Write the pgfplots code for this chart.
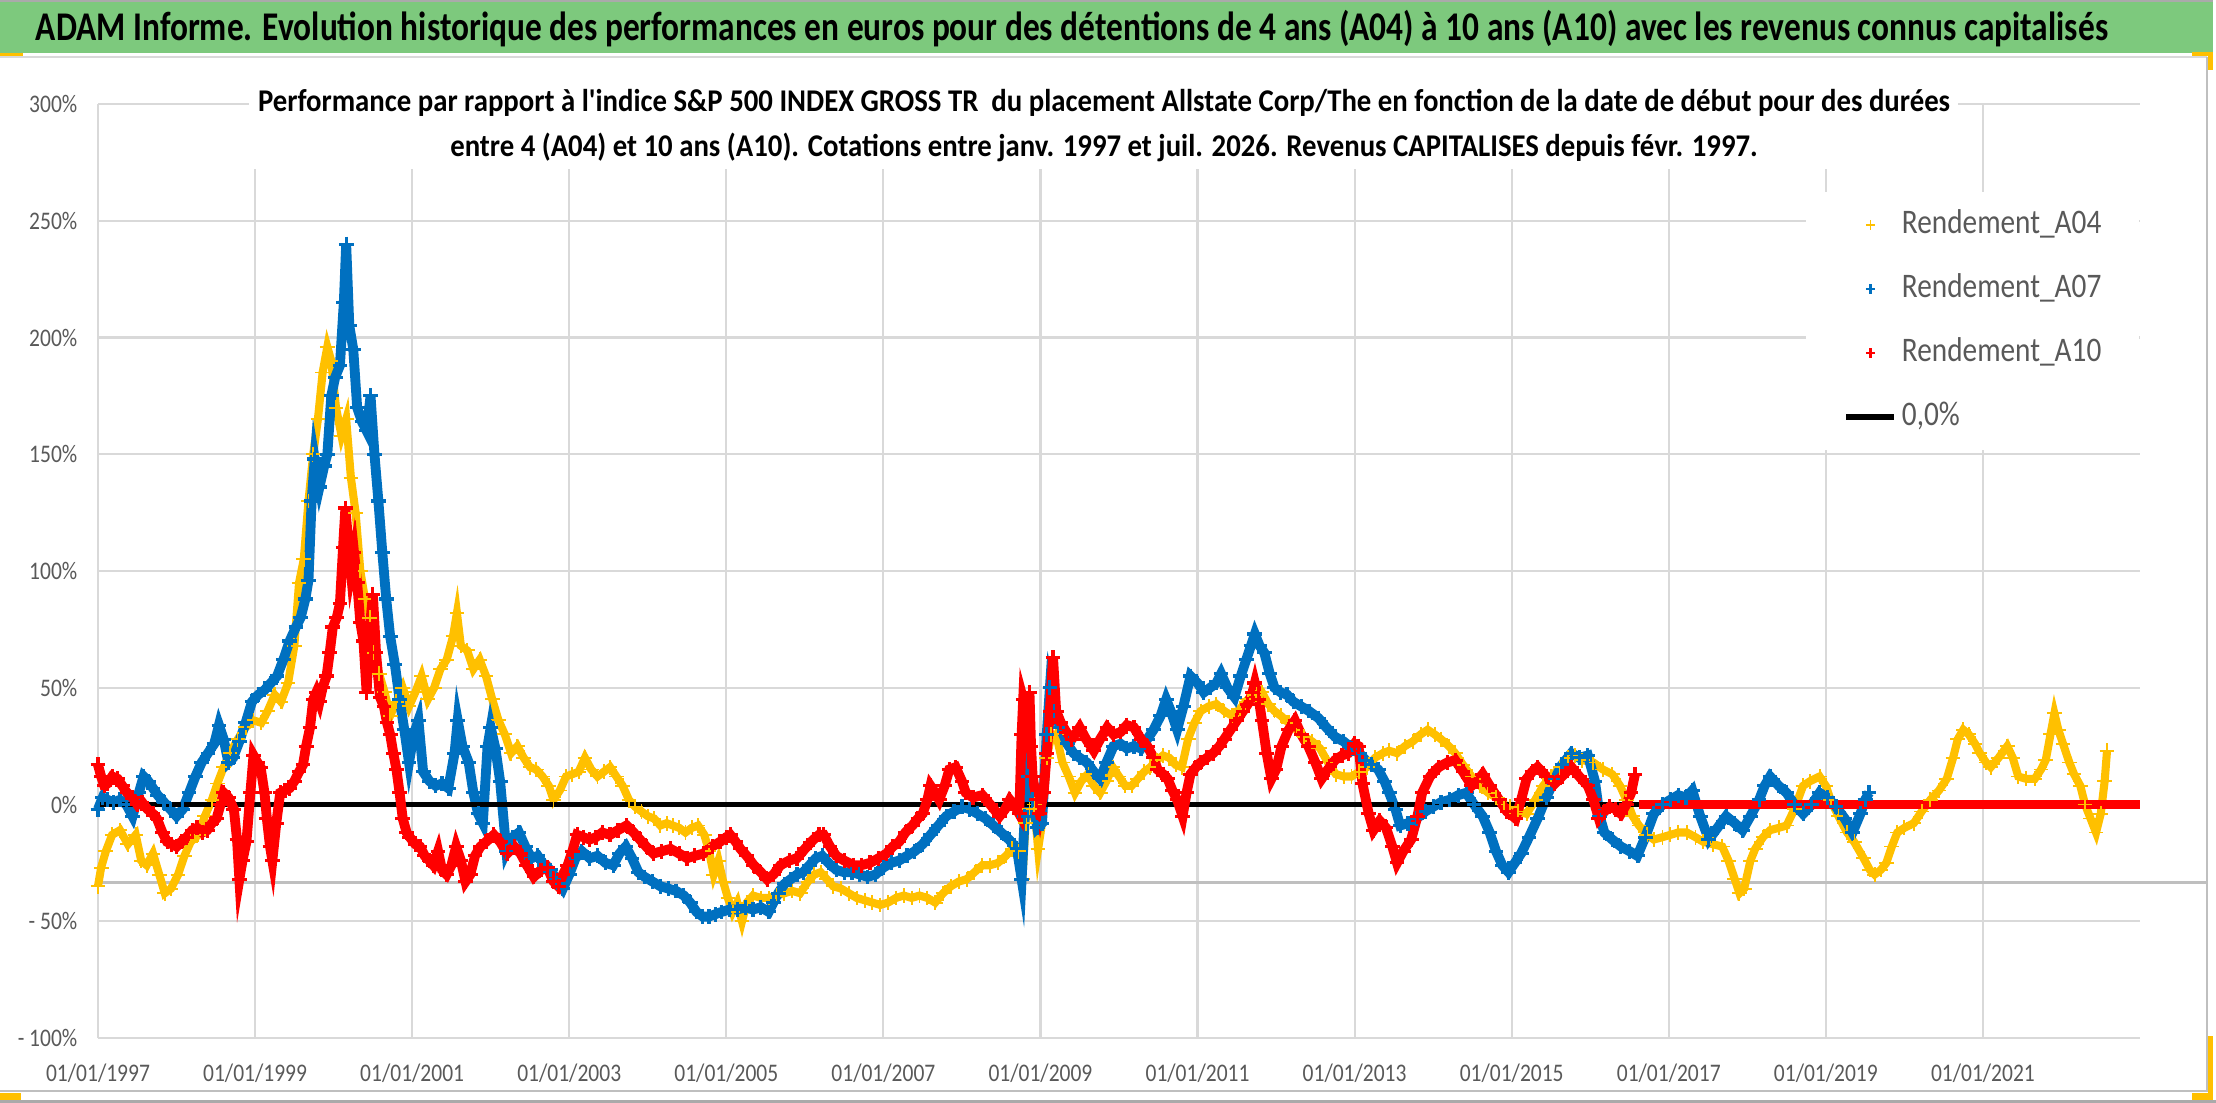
\documentclass[border=0pt]{standalone}
\usepackage{graphicx}
\usepackage{fontspec}
\setmainfont{Carlito}[FakeStretch=0.85, Ligatures=TeXOff]
\usepackage{pgfplots}
\pgfplotsset{compat=1.18}
\definecolor{titlegreen}{RGB}{125,201,125}
\definecolor{labgray}{RGB}{89,89,89}
\definecolor{gridgray}{RGB}{217,217,217}
\definecolor{axisgray}{RGB}{191,191,191}
\definecolor{bordgray}{RGB}{170,170,170}
\definecolor{cyel}{RGB}{255,192,0}
\definecolor{cblue}{RGB}{0,112,192}
\definecolor{cred}{RGB}{255,0,0}
\newsavebox\subA
\newsavebox\subB
\newlength\la
\begin{document}
\savebox\subA{\fontsize{9}{10}\selectfont\bfseries Performance par rapport à l'indice S\&P 500 INDEX GROSS TR~ du placement Allstate Corp/The en fonction de la date de début pour des durées}%
\savebox\subB{\fontsize{9}{10}\selectfont\bfseries entre 4 (A04) et 10 ans (A10). Cotations entre janv. 1997 et juil. 2026. Revenus CAPITALISES depuis févr. 1997.}%
\setlength\la{\wd\subA}%
\pgfmathsetmacro\sx{16.92cm/\la}%
\begin{tikzpicture}
\path[use as bounding box] (0,0) rectangle (22.16,11.02);
% frame
\fill[titlegreen] (0,10.49) rectangle (22.13,11.02);
\draw[bordgray,line width=0.6pt] (0,11.015) -- (22.13,11.015);
\draw[gridgray,line width=0.8pt] (0,10.45) -- (22.07,10.45);
\draw[axisgray,line width=0.7pt] (22.07,10.45) -- (22.07,0.11) -- (0,0.11);
\draw[bordgray,line width=0.6pt] (0,0.005) -- (22.16,0.005);
\fill[cyel] (0,10.49) rectangle (0.23,10.46);
\fill[cyel] (21.92,10.50) rectangle (22.13,10.46);
\fill[cyel] (22.08,10.50) rectangle (22.13,10.32);
\fill[cyel] (22.08,0.66) rectangle (22.13,0.02);
\fill[cyel] (21.92,0.09) rectangle (22.13,0.02);
\fill[cyel] (0,0.09) rectangle (0.21,0.02);
\begin{axis}[
  at={(0.98cm,0.64cm)}, anchor=south west,
  scale only axis, width=20.42cm, height=9.34cm,
  xmin=1997, xmax=2023, ymin=-100, ymax=300,
  clip=false,
  axis line style={draw=none},
  tick style={draw=none},
  xtick={1997,1999,2001,2003,2005,2007,2009,2011,2013,2015,2017,2019,2021},
  xticklabels={01/01/1997,01/01/1999,01/01/2001,01/01/2003,01/01/2005,01/01/2007,01/01/2009,01/01/2011,01/01/2013,01/01/2015,01/01/2017,01/01/2019,01/01/2021},
  ytick={-100,-50,0,50,100,150,200,250,300},
  yticklabels={- 100\%,- 50\%,0\%,50\%,100\%,150\%,200\%,250\%,300\%},
  grid=major, grid style={color=gridgray, line width=0.6pt},
  ticklabel style={font=\fontsize{7.2}{8}\selectfont, text=labgray},
  xticklabel style={anchor=base, yshift=-0.43cm, inner sep=0pt},
  yticklabel style={anchor=east, xshift=-0.2cm, inner sep=0pt},
  legend image code/.code={\draw[mark repeat=2,mark phase=2,#1] plot coordinates {(0cm,0cm) (0.24cm,0cm) (0.48cm,0cm)};},
  legend style={at={(1,0.906)}, anchor=north east, draw=none, fill=white,
    inner xsep=0.38cm, inner ysep=0.17cm, row sep=0.33cm,
    font=\fontsize{9.8}{11}\selectfont, text=labgray,
    nodes={inner sep=0pt, text height=0.24cm, text depth=0.07cm},
    /tikz/every odd column/.append style={column sep=0.05cm}},
  legend cell align=left,
]
\addplot[axisgray, line width=0.8pt, forget plot] coordinates {(1997,-33.5) (2023.85,-33.5)};
% A04
\addplot[cyel, line width=2.3pt, mark=+, mark size=2.1pt, mark options={line width=0.55pt}, forget plot] coordinates {
(1997.00,-35) (1997.04,-27) (1997.10,-20) (1997.18,-13) (1997.28,-11) (1997.38,-17) (1997.48,-13) (1997.55,-24) (1997.62,-26) (1997.70,-21)
(1997.78,-30) (1997.85,-38) (1997.93,-36) (1998.02,-30) (1998.10,-22) (1998.18,-16) (1998.28,-13) (1998.36,-5) (1998.45,2) (1998.52,9)
(1998.60,16) (1998.68,22) (1998.78,28) (1998.88,33) (1998.98,36) (1999.08,35) (1999.16,40) (1999.25,47) (1999.33,44) (1999.42,52)
(1999.50,68) (1999.56,95) (1999.62,105) (1999.68,130) (1999.74,150) (1999.80,165) (1999.86,185) (1999.92,196) (1999.97,190) (2000.03,170)
(2000.10,158) (2000.16,165) (2000.22,140) (2000.28,125) (2000.34,100) (2000.40,88) (2000.46,80) (2000.52,65) (2000.58,56) (2000.65,48)
(2000.72,38) (2000.80,44) (2000.88,50) (2000.96,42) (2001.04,48) (2001.12,55) (2001.20,45) (2001.28,50) (2001.36,58) (2001.44,62)
(2001.52,72) (2001.57,82) (2001.62,68) (2001.70,66) (2001.78,58) (2001.86,62) (2001.94,55) (2002.02,45) (2002.10,36) (2002.18,30)
(2002.26,22) (2002.34,25) (2002.42,20) (2002.50,16) (2002.58,15) (2002.66,12) (2002.74,8) (2002.80,2) (2002.88,6) (2002.96,12)
(2003.04,13) (2003.12,14) (2003.20,20) (2003.28,15) (2003.36,12) (2003.44,14) (2003.52,16) (2003.60,12) (2003.68,8) (2003.76,2)
(2003.84,-1) (2003.92,-3) (2004.00,-5) (2004.08,-6) (2004.16,-9) (2004.24,-8) (2004.32,-9) (2004.40,-10) (2004.48,-12) (2004.56,-10)
(2004.64,-9) (2004.72,-13) (2004.78,-20) (2004.84,-30) (2004.90,-24) (2004.96,-33) (2005.02,-40) (2005.08,-46) (2005.14,-42) (2005.20,-50)
(2005.26,-42) (2005.34,-39) (2005.44,-40) (2005.54,-40) (2005.64,-39) (2005.74,-38) (2005.84,-37) (2005.94,-38) (2006.04,-33) (2006.12,-30)
(2006.20,-29) (2006.28,-32) (2006.36,-35) (2006.46,-36) (2006.56,-38) (2006.66,-40) (2006.76,-41) (2006.86,-42) (2006.96,-43) (2007.06,-42)
(2007.16,-40) (2007.26,-39) (2007.36,-40) (2007.46,-39) (2007.56,-40) (2007.66,-42) (2007.76,-38) (2007.86,-35) (2007.96,-33) (2008.06,-32)
(2008.16,-29) (2008.26,-26) (2008.36,-26) (2008.46,-25) (2008.56,-22) (2008.64,-19) (2008.72,-20) (2008.77,-32) (2008.81,-8) (2008.86,-2)
(2008.92,0) (2008.97,-19) (2009.02,-8) (2009.08,20) (2009.14,30) (2009.20,30) (2009.28,18) (2009.36,12) (2009.44,5) (2009.52,10)
(2009.60,13) (2009.68,8) (2009.76,5) (2009.84,10) (2009.92,16) (2010.00,12) (2010.08,8) (2010.16,8) (2010.24,11) (2010.32,14)
(2010.40,16) (2010.48,19) (2010.56,21) (2010.64,20) (2010.72,17) (2010.80,16) (2010.88,28) (2010.96,35) (2011.04,40) (2011.14,42)
(2011.24,43) (2011.34,40) (2011.44,38) (2011.54,41) (2011.64,45) (2011.74,47) (2011.82,48) (2011.90,43) (2011.98,40) (2012.06,38)
(2012.16,35) (2012.26,32) (2012.36,29) (2012.46,27) (2012.56,24) (2012.66,18) (2012.76,13) (2012.86,12) (2012.96,12) (2013.06,14)
(2013.16,16) (2013.26,20) (2013.36,22) (2013.44,23) (2013.54,22) (2013.64,25) (2013.74,27) (2013.84,30) (2013.93,32) (2014.02,30)
(2014.10,28) (2014.20,25) (2014.28,22) (2014.38,17) (2014.49,12) (2014.60,8) (2014.70,5) (2014.80,3) (2014.90,0) (2014.98,-1)
(2015.08,-3) (2015.19,-4) (2015.30,2) (2015.40,8) (2015.50,12) (2015.62,16) (2015.72,20) (2015.80,21) (2015.90,19) (2016.04,18)
(2016.16,15) (2016.28,13) (2016.38,8) (2016.46,2) (2016.54,-5) (2016.62,-9) (2016.72,-13) (2016.81,-15) (2016.92,-14) (2017.02,-13)
(2017.12,-12) (2017.23,-12) (2017.34,-14) (2017.44,-16) (2017.56,-17) (2017.68,-18) (2017.76,-24) (2017.84,-32) (2017.90,-38) (2017.96,-36)
(2018.04,-24) (2018.10,-19) (2018.20,-14) (2018.29,-11) (2018.40,-10) (2018.50,-9) (2018.60,-2) (2018.71,8) (2018.80,10) (2018.92,12)
(2019.00,8) (2019.06,2) (2019.16,-5) (2019.27,-12) (2019.36,-16) (2019.48,-23) (2019.56,-28) (2019.62,-30) (2019.70,-28) (2019.77,-25)
(2019.84,-18) (2019.91,-12) (2020.00,-10) (2020.12,-8) (2020.22,-3) (2020.33,2) (2020.44,6) (2020.54,11) (2020.62,20) (2020.68,28)
(2020.75,32) (2020.82,30) (2020.90,26) (2020.96,22) (2021.04,18) (2021.10,16) (2021.20,20) (2021.31,25) (2021.38,20) (2021.45,12)
(2021.55,11) (2021.66,11) (2021.74,15) (2021.80,19) (2021.86,30) (2021.91,39) (2021.96,32) (2022.02,26) (2022.10,18) (2022.16,13)
(2022.24,8) (2022.30,0) (2022.37,-6) (2022.44,-12) (2022.50,-4) (2022.55,10) (2022.58,23)
};
% A07
\addplot[cblue, line width=2.8pt, mark=+, mark size=2.1pt, mark options={line width=0.9pt}, forget plot] coordinates {
(1997.00,-2) (1997.06,3) (1997.12,2) (1997.20,1) (1997.28,2) (1997.36,0) (1997.44,-5) (1997.52,5) (1997.58,12) (1997.64,10)
(1997.70,7) (1997.76,4) (1997.84,1) (1997.92,-2) (1998.00,-5) (1998.08,-2) (1998.16,5) (1998.24,12) (1998.32,18) (1998.40,22)
(1998.48,26) (1998.54,34) (1998.60,28) (1998.66,18) (1998.72,20) (1998.80,27) (1998.88,35) (1998.96,44) (1999.04,47) (1999.12,49)
(1999.20,52) (1999.28,55) (1999.36,62) (1999.44,70) (1999.52,76) (1999.58,80) (1999.64,88) (1999.68,96) (1999.72,130) (1999.76,148)
(1999.82,136) (1999.88,145) (1999.92,150) (1999.97,175) (2000.02,183) (2000.08,188) (2000.13,215) (2000.16,240) (2000.20,205) (2000.25,195)
(2000.30,170) (2000.36,164) (2000.42,160) (2000.47,175) (2000.52,150) (2000.57,130) (2000.62,108) (2000.67,88) (2000.72,72) (2000.78,60)
(2000.84,45) (2000.90,32) (2000.96,18) (2001.02,30) (2001.08,36) (2001.14,14) (2001.22,10) (2001.30,8) (2001.38,9) (2001.46,7)
(2001.54,22) (2001.58,36) (2001.64,25) (2001.72,18) (2001.78,5) (2001.84,-4) (2001.90,-8) (2001.96,25) (2002.00,33) (2002.06,24)
(2002.12,10) (2002.20,-20) (2002.28,-14) (2002.36,-12) (2002.44,-18) (2002.52,-23) (2002.60,-22) (2002.68,-26) (2002.76,-28) (2002.84,-32)
(2002.92,-36) (2003.00,-30) (2003.08,-23) (2003.16,-20) (2003.26,-23) (2003.36,-22) (2003.46,-25) (2003.56,-26) (2003.64,-21) (2003.72,-18)
(2003.80,-23) (2003.88,-29) (2003.96,-31) (2004.06,-33) (2004.16,-35) (2004.26,-36) (2004.36,-37) (2004.46,-39) (2004.54,-42) (2004.62,-46)
(2004.70,-48) (2004.78,-48) (2004.86,-47) (2004.94,-46) (2005.04,-45) (2005.14,-45) (2005.24,-44) (2005.34,-45) (2005.44,-44) (2005.54,-46)
(2005.60,-42) (2005.66,-38) (2005.74,-34) (2005.82,-32) (2005.90,-30) (2005.98,-29) (2006.06,-26) (2006.14,-23) (2006.22,-22) (2006.30,-25)
(2006.40,-28) (2006.50,-29) (2006.60,-29) (2006.70,-30) (2006.80,-31) (2006.90,-30) (2007.00,-27) (2007.10,-25) (2007.20,-24) (2007.30,-22)
(2007.40,-20) (2007.50,-17) (2007.60,-13) (2007.70,-9) (2007.80,-5) (2007.90,-3) (2008.00,-1) (2008.10,-2) (2008.20,-4) (2008.30,-6)
(2008.40,-9) (2008.50,-12) (2008.60,-15) (2008.70,-19) (2008.76,-32) (2008.80,-5) (2008.84,12) (2008.90,2) (2008.96,-10) (2009.02,-8)
(2009.08,30) (2009.12,50) (2009.18,40) (2009.25,33) (2009.34,26) (2009.42,22) (2009.50,20) (2009.59,18) (2009.68,14) (2009.76,11)
(2009.84,18) (2009.93,25) (2010.02,26) (2010.10,24) (2010.19,25) (2010.28,24) (2010.36,28) (2010.44,32) (2010.53,38) (2010.60,45)
(2010.66,40) (2010.74,32) (2010.82,42) (2010.91,55) (2011.00,52) (2011.08,48) (2011.16,50) (2011.24,52) (2011.30,56) (2011.38,50)
(2011.47,46) (2011.55,55) (2011.62,62) (2011.68,68) (2011.73,73) (2011.79,68) (2011.85,65) (2011.92,56) (2011.98,50) (2012.06,48)
(2012.14,47) (2012.22,44) (2012.32,42) (2012.42,40) (2012.54,37) (2012.64,33) (2012.75,29) (2012.86,27) (2012.97,24) (2013.06,22)
(2013.14,19) (2013.22,17) (2013.30,15) (2013.38,10) (2013.44,5) (2013.52,-2) (2013.58,-9) (2013.68,-8) (2013.79,-6) (2013.90,-3)
(2014.00,-1) (2014.10,1) (2014.21,2) (2014.32,4) (2014.42,5) (2014.52,0) (2014.63,-5) (2014.72,-12) (2014.80,-20) (2014.88,-26)
(2014.96,-29) (2015.04,-25) (2015.12,-21) (2015.22,-14) (2015.33,-6) (2015.44,3) (2015.55,11) (2015.64,17) (2015.76,22) (2015.86,20)
(2015.97,21) (2016.06,10) (2016.12,-5) (2016.18,-12) (2016.28,-15) (2016.39,-18) (2016.50,-20) (2016.60,-22) (2016.70,-14) (2016.81,-4)
(2016.92,0) (2017.02,2) (2017.12,4) (2017.22,3) (2017.30,6) (2017.40,-5) (2017.51,-15) (2017.62,-10) (2017.73,-5) (2017.84,-8)
(2017.94,-11) (2018.04,-5) (2018.15,2) (2018.22,8) (2018.29,12) (2018.40,8) (2018.50,5) (2018.60,0) (2018.71,-4) (2018.82,0)
(2018.92,5) (2019.02,3) (2019.13,-1) (2019.24,-6) (2019.34,-12) (2019.44,-4) (2019.50,2) (2019.55,5)
};
% zero line
\addplot[black, line width=1.5pt, forget plot] coordinates {(1997,0) (2023,0)};
% A10
\addplot[cred, line width=2.8pt, mark=+, mark size=2.1pt, mark options={line width=0.9pt}, forget plot] coordinates {
(1997.00,17) (1997.04,12) (1997.08,8) (1997.12,9) (1997.18,12) (1997.25,11) (1997.31,8) (1997.37,5) (1997.44,3) (1997.50,0)
(1997.56,1) (1997.63,-2) (1997.70,-4) (1997.75,-6) (1997.82,-12) (1997.88,-16) (1997.94,-17) (1998.00,-18) (1998.06,-16) (1998.13,-14)
(1998.20,-11) (1998.26,-10) (1998.33,-12) (1998.39,-11) (1998.45,-8) (1998.51,-6) (1998.56,0) (1998.60,5) (1998.66,3) (1998.73,-2)
(1998.77,-15) (1998.80,-32) (1998.84,-24) (1998.89,-16) (1998.94,5) (1998.98,21) (1999.03,18) (1999.07,16) (1999.12,5) (1999.15,-6)
(1999.19,-18) (1999.22,-24) (1999.27,-8) (1999.32,5) (1999.38,6) (1999.44,7) (1999.50,10) (1999.56,14) (1999.61,17) (1999.65,25)
(1999.70,33) (1999.74,45) (1999.78,48) (1999.82,44) (1999.86,50) (1999.91,55) (1999.95,65) (1999.99,76) (2000.04,80) (2000.08,86)
(2000.12,110) (2000.15,127) (2000.18,115) (2000.22,100) (2000.26,108) (2000.30,95) (2000.34,78) (2000.38,70) (2000.42,48) (2000.46,75)
(2000.50,90) (2000.54,65) (2000.59,46) (2000.64,42) (2000.68,35) (2000.72,30) (2000.76,22) (2000.80,15) (2000.84,5) (2000.88,-6)
(2000.93,-12) (2000.97,-14) (2001.04,-17) (2001.10,-18) (2001.16,-22) (2001.22,-24) (2001.27,-26) (2001.33,-20) (2001.38,-28) (2001.44,-30)
(2001.50,-26) (2001.56,-18) (2001.62,-24) (2001.68,-33) (2001.74,-30) (2001.80,-22) (2001.87,-18) (2001.94,-16) (2002.04,-13) (2002.12,-16)
(2002.21,-21) (2002.30,-18) (2002.38,-21) (2002.46,-26) (2002.55,-31) (2002.64,-28) (2002.72,-27) (2002.80,-33) (2002.86,-35) (2002.92,-30)
(2002.98,-26) (2003.04,-20) (2003.10,-13) (2003.18,-14) (2003.26,-15) (2003.34,-14) (2003.42,-12) (2003.52,-13) (2003.62,-11) (2003.73,-9)
(2003.82,-12) (2003.90,-15) (2003.98,-18) (2004.07,-21) (2004.18,-20) (2004.29,-19) (2004.40,-21) (2004.50,-23) (2004.60,-22) (2004.71,-21)
(2004.82,-18) (2004.92,-16) (2005.00,-14) (2005.05,-13) (2005.12,-16) (2005.18,-19) (2005.26,-22) (2005.35,-26) (2005.44,-29) (2005.52,-32)
(2005.60,-30) (2005.69,-26) (2005.80,-24) (2005.90,-23) (2006.00,-19) (2006.11,-15) (2006.18,-13) (2006.24,-13) (2006.32,-18) (2006.40,-22)
(2006.50,-24) (2006.62,-26) (2006.72,-26) (2006.83,-25) (2006.94,-23) (2007.04,-21) (2007.12,-18) (2007.20,-16) (2007.28,-12) (2007.37,-9)
(2007.44,-6) (2007.50,-4) (2007.56,2) (2007.60,8) (2007.66,5) (2007.71,2) (2007.78,8) (2007.84,15) (2007.92,16) (2008.00,10)
(2008.05,5) (2008.14,3) (2008.26,4) (2008.36,0) (2008.48,-5) (2008.55,-2) (2008.61,2) (2008.68,-1) (2008.73,-4) (2008.76,30)
(2008.78,45) (2008.82,40) (2008.86,48) (2008.88,25) (2008.90,12) (2008.95,2) (2008.99,-4) (2009.04,5) (2009.08,22) (2009.12,40)
(2009.16,63) (2009.20,40) (2009.26,35) (2009.33,31) (2009.40,28) (2009.50,33) (2009.58,28) (2009.68,23) (2009.76,28) (2009.85,33)
(2009.93,30) (2010.02,31) (2010.10,34) (2010.19,33) (2010.28,28) (2010.36,25) (2010.44,20) (2010.49,15) (2010.56,13) (2010.62,11)
(2010.68,6) (2010.74,2) (2010.81,-5) (2010.86,5) (2010.91,13) (2010.98,16) (2011.04,18) (2011.12,20) (2011.20,22) (2011.28,25)
(2011.34,28) (2011.42,32) (2011.50,36) (2011.58,40) (2011.64,43) (2011.70,48) (2011.73,52) (2011.78,45) (2011.82,36) (2011.88,22)
(2011.94,11) (2012.00,15) (2012.07,25) (2012.16,32) (2012.24,36) (2012.32,30) (2012.41,25) (2012.50,18) (2012.58,11) (2012.66,15)
(2012.75,19) (2012.84,21) (2012.92,22) (2013.00,26) (2013.05,25) (2013.10,9) (2013.18,-4) (2013.24,-11) (2013.32,-7) (2013.40,-10)
(2013.48,-18) (2013.54,-25) (2013.62,-20) (2013.72,-15) (2013.80,-5) (2013.86,5) (2013.96,12) (2014.07,16) (2014.18,18) (2014.28,19)
(2014.38,14) (2014.49,8) (2014.56,10) (2014.63,13) (2014.72,8) (2014.84,2) (2014.94,-3) (2015.05,-6) (2015.12,2) (2015.19,11)
(2015.26,14) (2015.33,16) (2015.44,12) (2015.55,9) (2015.64,12) (2015.76,16) (2015.86,12) (2015.97,8) (2016.04,2) (2016.11,-6)
(2016.18,-3) (2016.25,-1) (2016.32,-2) (2016.39,-4) (2016.46,0) (2016.52,5) (2016.57,13)
};
\addplot[cred, line width=2.8pt, forget plot] coordinates {(2016.62,0) (2023,0)};
\addlegendimage{only marks, mark=+, cyel, mark size=1.3pt, mark options={line width=0.45pt}}
\addlegendentry{Rendement\_A04}
\addlegendimage{only marks, mark=+, cblue, mark size=1.3pt, mark options={line width=0.8pt}}
\addlegendentry{Rendement\_A07}
\addlegendimage{only marks, mark=+, cred, mark size=1.3pt, mark options={line width=0.8pt}}
\addlegendentry{Rendement\_A10}
\addlegendimage{black, line width=1.5pt}
\addlegendentry{0,0\%}
\end{axis}
% subtitle
\fill[white] (2.49,10.07) rectangle (19.58,9.33);
\node[anchor=base, inner sep=0pt, text=labgray] at (11.04,9.90) {\scalebox{\sx}[1]{\usebox\subA}};
\node[anchor=base, inner sep=0pt, text=labgray] at (11.04,9.45) {\scalebox{\sx}[1]{\usebox\subB}};
% title
\node[anchor=base, inner sep=0pt] at (10.72,10.61) {\resizebox{20.72cm}{\height}{\fontsize{11.6}{12}\selectfont\bfseries ADAM Informe. Evolution historique des performances en euros pour des détentions de 4 ans (A04) à 10 ans (A10) avec les revenus connus capitalisés}};
\end{tikzpicture}
\end{document}
